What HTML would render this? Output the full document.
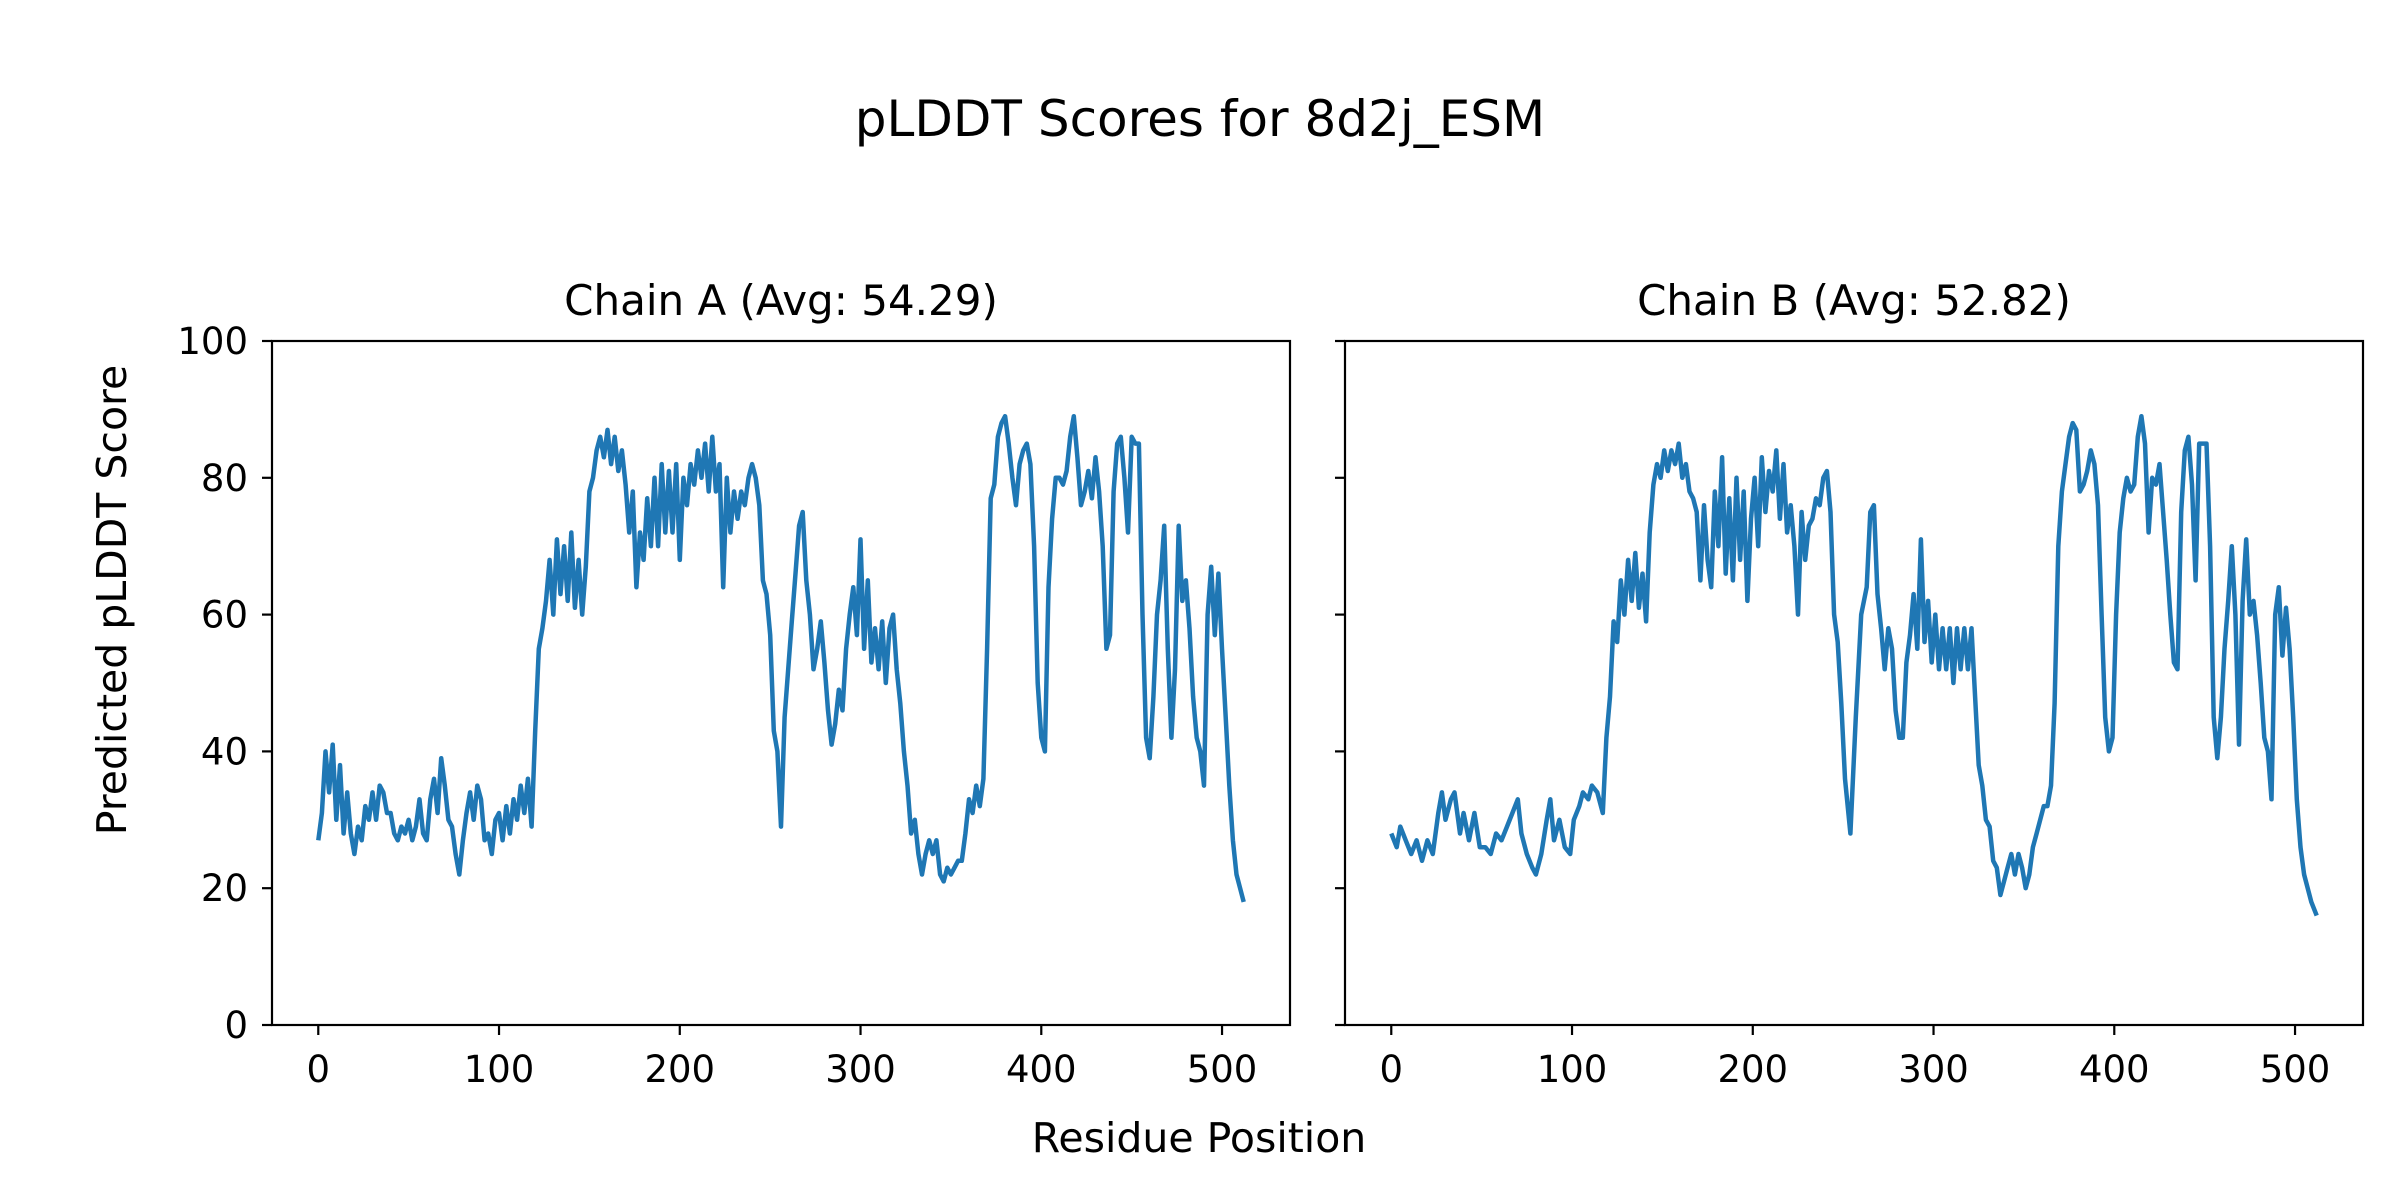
<!DOCTYPE html>
<html><head><meta charset="utf-8"><style>
body{margin:0;background:#fff}
svg{display:block;font-family:"DejaVu Sans","Liberation Sans",sans-serif}
</style></head><body>
<svg id="fig" width="2400" height="1200" viewBox="0 0 2400 1200">
<rect width="2400" height="1200" fill="#fff"/>
<text x="1200" y="136" font-size="50" text-anchor="middle">pLDDT Scores for 8d2j_ESM</text>
<text x="1199" y="1152" font-size="41" text-anchor="middle">Residue Position</text>
<text transform="translate(126,600) rotate(-90)" font-size="41" text-anchor="middle">Predicted pLDDT Score</text>
<g id="plots"></g>
</svg>
<script>
const stepA=2;
const scoreA=[27,31,40,34,41,30,38,28,34,
28,25,29,27,32,30,34,30,35,34,31,31,
28,27,29,28,30,27,29,33,28,27,33,
36,31,39,35,30,29,25,22,27,31,
34,30,35,33,27,28,25,30,31,
27,32,28,33,30,35,31,36,29,
43,55,58,62,68,60,71,63,70,62,72,
61,68,60,67,78,80,84,86,83,87,
82,86,81,84,79,72,78,64,72,68,
77,70,80,70,82,72,81,72,82,68,
80,76,82,79,84,80,85,78,86,78,
82,64,80,72,78,74,78,76,80,82,
80,76,65,63,57,43,40,29,45,52,
59,66,73,75,65,60,52,55,59,53,
46,41,44,49,46,55,60,64,57,71,
55,65,53,58,52,59,50,58,60,52,
47,40,35,28,30,25,22,25,27,25,
27,22,21,23,22,23,24,24,28,33,
31,35,32,36,55,77,79,86,88,89,
85,80,76,82,84,85,82,70,50,42,
40,64,74,80,80,79,81,86,89,83,
76,78,81,77,83,78,70,55,57,78,
85,86,80,72,86,85,85,60,42,39,
48,60,65,73,55,42,52,73,62,65,
58,48,42,40,35,60,67,57,66,55,
45,35,27,22,20,18];
const resB=[0,3,5,8,11,14,17,20,23,26,28,30,33,35,38,40,43,46,49,52,55,58,61,64,67,70,72,75,78,80,83,86,88,90,93,96,99,101,104,106,109,111,114,117,119,121,123,125,127,129,131,133,135,137,139,141,143,145,147,149,151,153,155,157,159,161,163,165,167,169,171,173,175,177,179,181,183,185,187,189,191,193,195,197,199,201,203,205,207,209,211,213,215,217,219,221,223,225,227,229,231,233,235,237,239,241,243,245,247,249,251,254,257,260,263,265,267,269,271,273,275,277,279,281,283,285,287,289,291,293,295,297,299,301,303,305,307,309,311,313,315,317,319,321,323,325,327,329,331,333,335,337,339,341,343,345,347,349,351,353,355,357,359,361,363,365,367,369,371,373,375,377,379,381,383,385,387,389,391,393,395,397,399,401,403,405,407,409,411,413,415,417,419,421,423,425,427,429,431,433,435,437,439,441,443,445,447,449,451,453,455,457,459,461,463,465,467,469,471,473,475,477,479,481,483,485,487,489,491,493,495,497,499,501,503,505,507,509,512];
const scoreB=[28,26,29,27,25,27,24,27,25,31,34,30,33,34,28,31,27,31,26,26,25,28,27,29,31,33,28,25,23,22,25,30,33,27,30,26,25,30,32,34,33,35,34,31,42,48,59,56,65,60,68,62,69,61,66,59,72,79,82,80,84,81,84,82,85,80,82,78,77,75,65,76,68,64,78,70,83,66,77,65,80,68,78,62,74,80,70,83,75,81,78,84,74,82,72,76,70,60,75,68,73,74,77,76,80,81,75,60,56,47,36,28,45,60,64,75,76,63,58,52,58,55,46,42,42,53,57,63,55,71,56,62,53,60,52,58,52,58,50,58,52,58,52,58,48,38,35,30,29,24,23,19,21,23,25,22,25,23,20,22,26,28,30,32,32,35,47,70,78,82,86,88,87,78,79,81,84,82,76,60,45,40,42,60,72,77,80,78,79,86,89,85,72,80,79,82,75,68,60,53,52,75,84,86,79,65,85,85,85,70,45,39,45,55,62,70,60,41,62,71,60,62,57,50,42,40,33,60,64,54,61,55,45,33,26,22,20,18,16];
const yTicks=[0,20,40,60,80,100];
const xTicks=[0,100,200,300,400,500];
const titles=["Chain A (Avg: 54.29)","Chain B (Avg: 52.82)"];
const resA=scoreA.map((v,i)=>i*stepA);
const NS="http://www.w3.org/2000/svg";
const plotsG=document.getElementById('plots');
function mk(tag,attrs,parent){const e=document.createElementNS(NS,tag);for(const k in attrs)e.setAttribute(k,attrs[k]);(parent||plotsG).appendChild(e);return e;}
const axTop=341,axBot=1025,axW=1018;
function drawPanel(left,res,sc,title,idx){
  const xs=v=>left+(v+25.6)/563.2*axW;
  const ys=v=>axBot-(v/100)*(axBot-axTop);
  const grp=mk('g',{});
  
  
  const t=mk('text',{x:left+axW/2,y:315,'font-size':42,'text-anchor':'middle'},grp);t.textContent=title;
  
  
  const n=Math.min(res.length,sc.length);
  const pts=[];
  for(let i=0;i<n;i++)pts.push(xs(res[i]).toFixed(1)+','+ys(sc[i]).toFixed(1));
  const pl=mk('polyline',{points:pts.join(' '),fill:'none',stroke:'#1f77b4','stroke-width':4.5,'stroke-linejoin':'round'},grp);
  
  
  const fr=mk('rect',{x:left,y:axTop,width:axW,height:axBot-axTop,fill:'none',stroke:'#000','stroke-width':2.2},grp);
  
  
  xTicks.forEach(v=>{
    mk('line',{x1:xs(v),x2:xs(v),y1:axBot,y2:axBot+10,stroke:'#000','stroke-width':2.2},grp);
    const tl=mk('text',{x:xs(v),y:1082,'font-size':37,'text-anchor':'middle'},grp);tl.textContent=v;
    
    
  });
  yTicks.forEach(v=>{
    mk('line',{x1:left-10,x2:left,y1:ys(v),y2:ys(v),stroke:'#000','stroke-width':2.2},grp);
    if(idx===0){const tl=mk('text',{x:left-24,y:ys(v)+13,'font-size':37,'text-anchor':'end'},grp);tl.textContent=v;
    
    }
  });
}
drawPanel(272,resA,scoreA,titles[0],0);
drawPanel(1345,resB,scoreB,titles[1],1);
</script>
</body></html>
